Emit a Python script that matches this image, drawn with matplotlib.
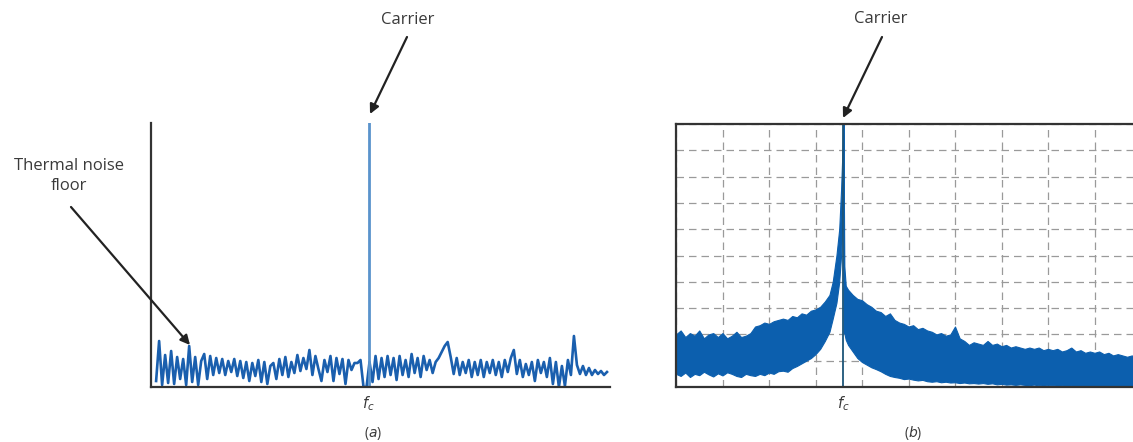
import matplotlib
matplotlib.use('Agg')
from matplotlib import pyplot as plt
import numpy as np

# ---- panel (a): noise floor samples (height above baseline) ----
noise_a = [6, 46, 2, 32, 4, 36, 3, 30, 8, 28, 2, 41, 5, 30, 2, 26, 33, 8, 31, 12,
           29, 14, 28, 12, 26, 15, 28, 11, 26, 9, 25, 6, 24, 11, 27, 5, 25, 3, 21, 24,
           8, 28, 12, 30, 10, 25, 14, 32, 16, 29, 18, 37, 12, 31, 18, 6, 27, 15, 31, 6,
           29, 13, 28, 3, 27, 17, 24, 24, 27, 0,
           0, 25, 5, 31, 8, 29, 10, 31, 12, 29, 7, 31, 12, 27, 10, 33, 14, 29, 10, 31,
           17, 27, 14, 25, 29, 35, 41, 45, 30, 13, 29, 12, 25, 14, 27, 10, 25, 12, 27, 10,
           25, 14, 27, 12, 25, 10, 27, 15, 29, 37, 13, 27, 10, 23, 12, 25, 6, 27, 14, 25,
           10, 29, 3, 25, 0, 21, 1, 27, 12, 51, 22, 13, 21, 12, 19, 12, 17, 13, 16, 12, 15]
carrier_bin_a = 70.7
carrier_level_a = 264

# ---- panel (b): measured spectrum envelope (grid divisions) ----
fc_b = 3.6
freq_left = [0.0, 0.1, 0.2, 0.3, 0.4, 0.5, 0.6, 0.7, 0.8, 0.9, 1.0, 1.1, 1.2, 1.3, 1.4, 1.5, 1.6,
             1.7, 1.8, 1.9, 2.0, 2.1, 2.2, 2.3, 2.4, 2.5, 2.6, 2.7, 2.8, 2.9, 3.0, 3.1, 3.2, 3.3,
             3.37, 3.45, 3.51, 3.55, 3.58, 3.6]
upper_left = [2.0, 2.15, 1.9, 2.05, 1.95, 2.15, 1.85, 2.0, 2.05, 1.9, 2.05, 1.85, 1.95, 2.1, 1.9, 1.95, 2.05,
              2.3, 2.35, 2.45, 2.4, 2.5, 2.55, 2.6, 2.55, 2.7, 2.65, 2.8, 2.75, 2.9, 2.95, 3.05, 3.25, 3.5,
              4.0, 5.0, 6.0, 7.5, 9.0, 10.0]
lower_left = [0.5, 0.42, 0.55, 0.38, 0.5, 0.45, 0.58, 0.48, 0.4, 0.52, 0.44, 0.56, 0.5, 0.42, 0.38, 0.5, 0.45,
              0.42, 0.5, 0.45, 0.55, 0.5, 0.6, 0.62, 0.58, 0.72, 0.8, 0.9, 1.0, 1.1, 1.25, 1.45, 1.75, 2.1,
              2.6, 3.2, 4.0, 5.0, 6.5, 9.0]

freq_right = [3.6, 3.62, 3.65, 3.7, 3.8, 3.9, 4.0, 4.1, 4.2, 4.3, 4.4, 4.5, 4.6, 4.7, 4.8, 4.9,
              5.0, 5.1, 5.2, 5.3, 5.4, 5.5, 5.6, 5.7, 5.8, 5.9, 6.0, 6.1, 6.2, 6.3, 6.4, 6.5,
              6.6, 6.7, 6.8, 6.9, 7.0, 7.1, 7.2, 7.3, 7.4, 7.5, 7.6, 7.7, 7.8, 7.9, 8.0, 8.1,
              8.2, 8.3, 8.4, 8.5, 8.6, 8.7, 8.8, 8.9, 9.0, 9.1, 9.2, 9.3, 9.4, 9.5, 9.6, 9.7,
              9.8, 9.9, 10.0, 10.1, 10.2]
upper_right = [10.0, 4.6, 3.85, 3.7, 3.5, 3.35, 3.3, 3.15, 3.05, 2.9, 2.85, 2.7, 2.8, 2.55, 2.45, 2.4,
               2.3, 2.35, 2.2, 2.25, 2.15, 2.1, 2.0, 2.05, 1.95, 2.0, 2.3, 1.85, 1.75, 1.6, 1.7, 1.65,
               1.6, 1.75, 1.6, 1.65, 1.55, 1.6, 1.5, 1.55, 1.5, 1.45, 1.5, 1.45, 1.5, 1.4, 1.45, 1.4,
               1.45, 1.35, 1.4, 1.5, 1.35, 1.4, 1.3, 1.35, 1.3, 1.35, 1.25, 1.3, 1.2, 1.25, 1.2, 1.15,
               1.2, 1.15, 1.1, 1.15, 1.1]
lower_right = [2.05, 2.05, 1.8, 1.6, 1.35, 1.1, 0.95, 0.85, 0.75, 0.68, 0.6, 0.5, 0.42, 0.38, 0.35, 0.3,
               0.32, 0.28, 0.25, 0.27, 0.22, 0.2, 0.22, 0.18, 0.2, 0.17, 0.18, 0.15, 0.17, 0.14, 0.15, 0.13,
               0.15, 0.12, 0.14, 0.1, 0.12, 0.09, 0.1, 0.08, 0.1, 0.08, 0.07, 0.09, 0.06, 0.08, 0.06, 0.07,
               0.05, 0.06, 0.05, 0.06, 0.04, 0.05, 0.04, 0.05, 0.04, 0.03, 0.04, 0.03, 0.04, 0.03, 0.03, 0.02,
               0.03, 0.02, 0.02, 0.03, 0.02]

W, H = 1133, 442
fig = plt.figure(figsize=(W / 100, H / 100), dpi=100)
plt.rcParams['font.family'] = ['Open Sans', 'DejaVu Sans']
txt_col = '#3a3a3a'

def px(x, y):
    # image pixel (top-left origin) -> figure pixels
    return (x, H - y)

# ---------------- (a) ----------------
ax1 = fig.add_axes([151 / W, 55 / H, 459 / W, 264 / H])
bins = np.arange(len(noise_a))
ax1.plot(bins, noise_a, color='#1a5fae', lw=1.9)
ax1.plot([carrier_bin_a, carrier_bin_a], [0, carrier_level_a], color='#5a93cc', lw=2)
ax1.set_xlim(-1.7, 151)
ax1.set_ylim(0, 264)
for s in ['top', 'right']:
    ax1.spines[s].set_visible(False)
for s in ['left', 'bottom']:
    ax1.spines[s].set_color('#333333')
    ax1.spines[s].set_linewidth(1.6)
ax1.set_xticks([])
ax1.set_yticks([])
ax1.text(carrier_bin_a, -7, r'$f_c$', ha='center', va='top', fontsize=10.5, color=txt_col)

# ---------------- (b) ----------------
ax2 = fig.add_axes([676 / W, 55 / H, 465 / W, 263 / H])
ax2.fill_between(freq_left, lower_left, upper_left, color='#0c5fae', lw=0.8, edgecolor='#0c5fae')
ax2.fill_between(freq_right, lower_right, upper_right, color='#0c5fae', lw=0.8, edgecolor='#0c5fae')
ax2.axvline(fc_b, color='#1d5578', lw=1.3)
ax2.set_xlim(0, 10)
ax2.set_ylim(0, 10)
ax2.set_xticks(range(11))
ax2.set_yticks(range(11))
ax2.tick_params(length=0, labelbottom=False, labelleft=False)
ax2.grid(True, color='#9a9a9a', lw=0.9, linestyle=(0, (6, 4)))
ax2.set_axisbelow(True)
for s in ax2.spines.values():
    s.set_color('#333333')
    s.set_linewidth(1.6)
ax2.text(fc_b, -0.28, r'$f_c$', ha='center', va='top', fontsize=10.5, color=txt_col)

# ---------------- annotations ----------------
arrow = dict(arrowstyle='-|>', color='#222222', lw=1.6, mutation_scale=14, shrinkA=0, shrinkB=0)
fig.text(408 / W, 1 - 20 / H, 'Carrier', ha='center', va='center', fontsize=12, color=txt_col)
ax1.annotate('', xy=px(370, 114), xycoords='figure pixels',
             xytext=px(407, 37), textcoords='figure pixels', arrowprops=arrow)
fig.text(881 / W, 1 - 19 / H, 'Carrier', ha='center', va='center', fontsize=12, color=txt_col)
ax2.annotate('', xy=px(843, 118), xycoords='figure pixels',
             xytext=px(882, 37), textcoords='figure pixels', arrowprops=arrow)
fig.text(69 / W, 1 - 158 / H, 'Thermal noise\nfloor', ha='center', va='top', fontsize=12,
         color=txt_col, linespacing=1.35)
ax1.annotate('', xy=px(190, 345), xycoords='figure pixels',
             xytext=px(71, 207), textcoords='figure pixels', arrowprops=arrow)

fig.text(373 / W, 1 - 433 / H, r'($\mathit{a}$)', ha='center', va='center', fontsize=10, color=txt_col)
fig.text(913 / W, 1 - 433 / H, r'($\mathit{b}$)', ha='center', va='center', fontsize=10, color=txt_col)

fig.savefig('out.png', dpi=100, facecolor='white')
